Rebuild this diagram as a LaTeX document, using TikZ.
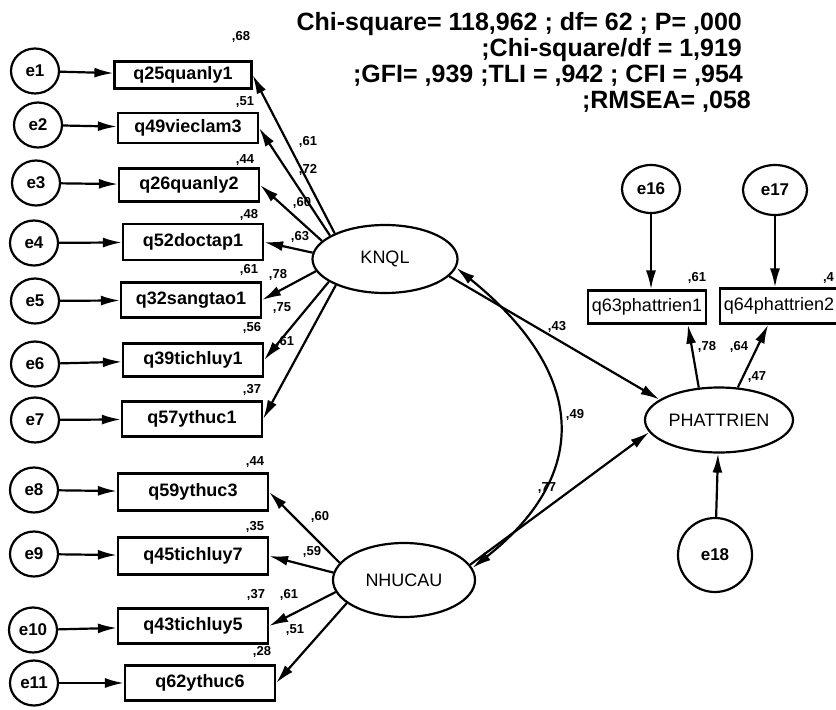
\documentclass[tikz,border=0pt]{standalone}
\usepackage{fontspec}
\setmainfont{Liberation Sans}
\usetikzlibrary{arrows.meta,shapes.geometric,calc}

\begin{document}
\begin{tikzpicture}[>={Latex[length=19pt,width=10pt]}, line width=2.2pt, x=1pt, y=-1pt,
    err/.style={draw, ellipse, minimum width=48pt, minimum height=45pt, inner sep=0pt, font=\bfseries\fontsize{17}{19}\selectfont},
    item/.style={draw, rectangle, minimum width=140pt, minimum height=33pt, inner sep=0pt, font=\bfseries\fontsize{18}{20}\selectfont},
    latent/.style={draw, ellipse, inner sep=0pt, font=\fontsize{18}{20}\selectfont},
    est/.style={inner sep=0pt, font=\bfseries\fontsize{13}{15}\selectfont},
    stats/.style={inner sep=0pt, anchor=base east, font=\bfseries\fontsize{25}{27}\selectfont}]
    \useasboundingbox (0,0) rectangle (836,710);
    \clip (0,0) rectangle (836,710);

    % fit indices
    \node[stats] (chi) at (743,30) {Chi-square= 118,962 ; df= 62 ; P= ,000};
    \node[stats] (cmin) at (743,56) {;Chi-square/df = 1,919};
    \node[stats] (gfi) at (744,82) {;GFI= ,939 ;TLI = ,942 ; CFI = ,954};
    \node[stats] (rmsea) at (752,108) {;RMSEA= ,058};

    % latent variables
    \node[latent, minimum width=145pt, minimum height=68pt] (KNQL) at (385,259) {KNQL};
    \node[latent, minimum width=142pt, minimum height=74pt] (NHUCAU) at (404,580) {NHUCAU};
    \node[latent, minimum width=148pt, minimum height=65pt] (PHATTRIEN) at (719,420) {PHATTRIEN};

    % observed items
    \node[item, minimum width=137pt, minimum height=27pt] (q25) at (183,75) {q25quanly1};
    \node[item, minimum height=30pt] (q49) at (188,128) {q49vieclam3};
    \node[item] (q26) at (189,185) {q26quanly2};
    \node[item, minimum height=36pt] (q52) at (193,242) {q52doctap1};
    \node[item, minimum height=35pt] (q32) at (191,300) {q32sangtao1};
    \node[item] (q39) at (193,360) {q39tichluy1};
    \node[item, minimum height=35pt] (q57) at (192,419) {q57ythuc1};
    \node[item, minimum width=150pt, minimum height=37pt] (q59) at (193,492) {q59ythuc3};
    \node[item, minimum width=150pt, minimum height=37pt] (q45) at (193,556) {q45tichluy7};
    \node[item, minimum width=150pt, minimum height=35pt] (q43) at (193,626) {q43tichluy5};
    \node[item, minimum width=150pt, minimum height=35pt] (q62) at (200,683) {q62ythuc6};
    \node[item, minimum width=118pt, font=\fontsize{18}{20}\selectfont] (q63) at (647,307) {q63phattrien1};
    \node[item, minimum width=118pt, minimum height=35pt, font=\fontsize{18}{20}\selectfont] (q64) at (779,306) {q64phattrien2};

    % error terms
    \node[err] (e1) at (35,71) {e1};
    \node[err] (e2) at (38,125) {e2};
    \node[err] (e3) at (36,183) {e3};
    \node[err] (e4) at (34,243) {e4};
    \node[err] (e5) at (35,301) {e5};
    \node[err] (e6) at (35,364) {e6};
    \node[err] (e7) at (35,420) {e7};
    \node[err] (e8) at (34,490) {e8};
    \node[err] (e9) at (34,554) {e9};
    \node[err] (e10) at (33,630) {e10};
    \node[err] (e11) at (34,683) {e11};
    \node[err, minimum width=58pt, minimum height=48pt] (e16) at (651,189) {e16};
    \node[err, minimum width=64pt, minimum height=50pt] (e17) at (775,190) {e17};
    \node[err, minimum width=74pt, minimum height=74pt] (e18) at (715,555) {e18};

    \draw[->] (e1) -- (q25);
    \draw[->] (e2) -- (q49);
    \draw[->] (e3) -- (q26);
    \draw[->] (e4) -- (q52);
    \draw[->] (e5) -- (q32);
    \draw[->] (e6) -- (q39);
    \draw[->] (e7) -- (q57);
    \draw[->] (e8) -- (q59);
    \draw[->] (e9) -- (q45);
    \draw[->] (e10) -- (q43);
    \draw[->] (e11) -- (q62);
    \draw[->] (e16.south) -- (e16.south |- q63.north);
    \draw[->] (e17.south) -- (e17.south |- q64.north);
    \draw[->] (e18) -- (PHATTRIEN);

    % loadings
    \draw[->] (KNQL.153) -- (q25.east);
    \draw[->] (KNQL.157) -- (q49.east);
    \draw[->] (KNQL.164) -- (q26.east);
    \draw[->] (KNQL.175) -- (q52.east);
    \draw[->] (KNQL.190) -- (q32.east);
    \draw[->] (KNQL.202) -- (q39.east);
    \draw[->] (KNQL.208) -- (q57.east);
    \draw[->] (NHUCAU.165) -- (q59.east);
    \draw[->] (NHUCAU.174) -- (q45.east);
    \draw[->] (NHUCAU.190) -- (q43.east);
    \draw[->] (NHUCAU.202) -- (q62.east);
    \draw[->] (PHATTRIEN.122) -- ($(q63.south)!0.68!(q63.south east)$);
    \draw[->] (PHATTRIEN.60) -- ($(q64.south)!0.18!(q64.south west)$);

    % paths
    \draw[->] (KNQL.-15) -- (PHATTRIEN.161);
    \draw[->] (NHUCAU.13) -- (PHATTRIEN.190);
    \draw[<->] (KNQL.-7) .. controls (595,380) and (584,480) .. (NHUCAU.10);

    % estimates
    \node[est] (r25) at (241,37) {,68};
    \node[est] (r49) at (245,102) {,51};
    \node[est] (r26) at (245,160) {,44};
    \node[est] (r52) at (249,215) {,48};
    \node[est] (r32) at (249,270) {,61};
    \node[est] (r39) at (252,328) {,56};
    \node[est] (r57) at (252,390) {,37};
    \node[est] (r59) at (255,462) {,44};
    \node[est] (r45) at (255,527) {,35};
    \node[est] (r43) at (256,595) {,37};
    \node[est] (r62) at (262,652) {,28};
    \node[est] (r63) at (697,278) {,61};
    \node[est, anchor=west] (r64) at (822,278) {,4};
    \node[est] (rPT) at (757,377) {,47};
    \node[est] (w25) at (308,142) {,61};
    \node[est] (w49) at (308,170) {,72};
    \node[est] (w26) at (302,203) {,60};
    \node[est] (w52) at (300,237) {,63};
    \node[est] (w32) at (278,275) {,78};
    \node[est] (w39) at (282,308) {,75};
    \node[est] (w57) at (285,342) {,61};
    \node[est] (w59) at (320,517) {,60};
    \node[est] (w45) at (312,552) {,59};
    \node[est] (w43) at (289,595) {,61};
    \node[est] (w62) at (295,630) {,51};
    \node[est] (w63) at (707,347) {,78};
    \node[est] (w64) at (739,347) {,64};
    \node[est] (bK) at (557,327) {,43};
    \node[est] (bN) at (547,488) {,77};
    \node[est] (cKN) at (575,415) {,49};
\end{tikzpicture}
\end{document}
